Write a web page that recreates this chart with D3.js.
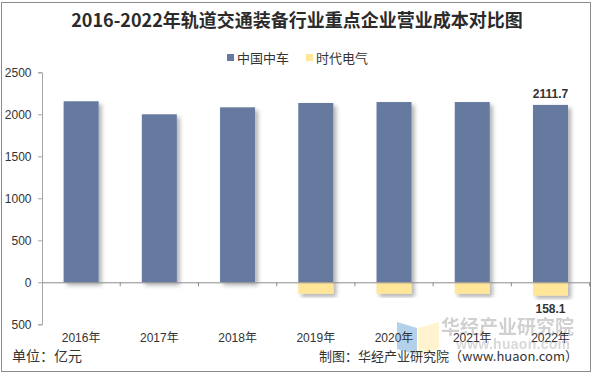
<!DOCTYPE html>
<html><head><meta charset="utf-8">
<script src="https://cdn.jsdelivr.net/npm/d3@7/dist/d3.min.js"></script>
<style>html,body{margin:0;padding:0;background:#fff;}svg{display:block;}</style>
</head><body>
<script>
const categories = ["2016年","2017年","2018年","2019年","2020年","2021年","2022年"];
const crrc = [2155, 2000, 2083, 2135, 2146, 2146, 2111.7];
const tec = [null, null, null, -136, -137, -136, -158.1];
const seriesNames = ["中国中车","时代电气"];
const yTicks = [-500, 0, 500, 1000, 1500, 2000, 2500];
const colors = ["#667AA0", "#FFE699"];

const W = 595, H = 376;
const svg = d3.select("body").append("svg").attr("width", W).attr("height", H);
const defs = svg.append("defs");
const f = defs.append("filter").attr("id","sh").attr("x","-30%").attr("y","-30%").attr("width","160%").attr("height","160%");
f.append("feDropShadow").attr("dx",3).attr("dy",3).attr("stdDeviation",2).attr("flood-color","#000").attr("flood-opacity",0.3);

svg.append("rect").attr("x",1.5).attr("y",2.5).attr("width",589).attr("height",369)
  .attr("fill","#fff").attr("stroke","#8c8c8c").attr("stroke-width",1);

const font = "'Liberation Sans', Arial, 'Noto Sans CJK SC', sans-serif";
const cjk = "'Noto Sans CJK SC', sans-serif";

svg.append("text").attr("x", 297).attr("y", 27).attr("text-anchor","middle")
  .attr("font-family", cjk).attr("font-weight","bold").attr("font-size",18).attr("fill","#2b2b2b")
  .text("2016-2022年轨道交通装备行业重点企业营业成本对比图");

const x = d3.scaleBand().domain(categories).range([42, 589.6]).paddingInner(0).paddingOuter(0);
const y = d3.scaleLinear().domain([-500, 2500]).range([324.3, 72.3]);
const bw = 35;

// watermark (behind labels)
const wm = svg.append("g").attr("opacity",0.45);
wm.append("path").attr("d","M397,322 L417,328 L417,355 L397,349 Z").attr("fill","#5b9bd5");
wm.append("path").attr("d","M418,328 L439,322 L439,349 L418,355 Z").attr("fill","#ffe699");
wm.append("text").attr("x",441).attr("y",334).attr("font-family",cjk).attr("font-weight","bold").attr("font-size",19).attr("fill","#999")
  .text("华经产业研究院");
wm.append("text").attr("x",456).attr("y",349).attr("font-family",font).attr("font-weight","bold").attr("font-size",14).attr("fill","#aaa")
  .attr("textLength",114).attr("lengthAdjust","spacing").text("www.huaon.com");

// legend
const lg = svg.append("g").attr("font-family", cjk).attr("font-size",13).attr("fill","#333");
[[227, 0],[306, 1]].forEach(([lx,i])=>{
  lg.append("rect").attr("x",lx).attr("y",54).attr("width",7).attr("height",7).attr("fill",colors[i]);
  lg.append("text").attr("x",lx+10).attr("y",62.5).text(seriesNames[i]);
});

// y axis
const ya = svg.append("g").attr("transform","translate(42,0)")
  .call(d3.axisLeft(y).tickValues(yTicks).tickSize(4).tickPadding(6).tickFormat(d=>String(Math.abs(d))));
ya.select(".domain").attr("stroke","#a6a6a6");
ya.selectAll(".tick line").attr("stroke","#a6a6a6");
ya.selectAll(".tick text").attr("font-family",font).attr("font-size",12).attr("fill","#333")
  .attr("x",-10.5);

// bars
const g = svg.append("g");
g.selectAll(".b1").data(crrc).join("rect")
  .attr("x",(d,i)=>x(categories[i])+x.bandwidth()/2-bw/2).attr("width",bw)
  .attr("y",d=>y(d)).attr("height",d=>y(0)-y(d)).attr("fill",colors[0]).attr("filter","url(#sh)");
g.selectAll(".b2").data(tec.map((v,i)=>({v,i})).filter(d=>d.v!=null)).join("rect")
  .attr("x",d=>x(categories[d.i])+x.bandwidth()/2-bw/2).attr("width",bw)
  .attr("y",y(0)).attr("height",d=>y(d.v)-y(0)).attr("fill",colors[1]).attr("filter","url(#sh)");

// zero line with category ticks
const xa = svg.append("g").attr("transform",`translate(0,${y(0)})`)
  .call(d3.axisBottom(x).tickSize(0).tickFormat(""));
xa.select(".domain").attr("stroke","#8c8c8c");
xa.selectAll(".tick").remove();
const bounds = categories.map(c=>x(c)).slice(1).concat([x(categories[6])+x.bandwidth()]);
xa.selectAll(".bt").data(bounds).join("line").attr("x1",d=>d).attr("x2",d=>d)
  .attr("y1",0).attr("y2",4).attr("stroke","#8c8c8c");

// category labels at bottom
svg.append("g").selectAll("text").data(categories).join("text")
  .attr("x",d=>x(d)+x.bandwidth()/2).attr("y",342).attr("text-anchor","middle")
  .attr("font-family",font).attr("font-size",12).attr("fill","#333").text(d=>d);

// data labels
svg.append("text").attr("x",x(categories[6])+x.bandwidth()/2).attr("y",y(crrc[6])-7)
  .attr("text-anchor","middle").attr("font-family",font).attr("font-weight","bold").attr("font-size",12).attr("fill","#333")
  .text(d3.format(".1f")(crrc[6]));
svg.append("text").attr("x",x(categories[6])+x.bandwidth()/2).attr("y",y(tec[6])+17)
  .attr("text-anchor","middle").attr("font-family",font).attr("font-weight","bold").attr("font-size",12).attr("fill","#333")
  .text(d3.format(".1f")(Math.abs(tec[6])));

// footer
svg.append("text").attr("x",12).attr("y",361).attr("font-family",cjk).attr("font-size",14).attr("fill","#333").text("单位：亿元");
svg.append("text").attr("x",578).attr("y",361).attr("text-anchor","end").attr("font-family",cjk).attr("font-size",13).attr("fill","#333")
  .text("制图：华经产业研究院（www.huaon.com）");
</script>
</body></html>
